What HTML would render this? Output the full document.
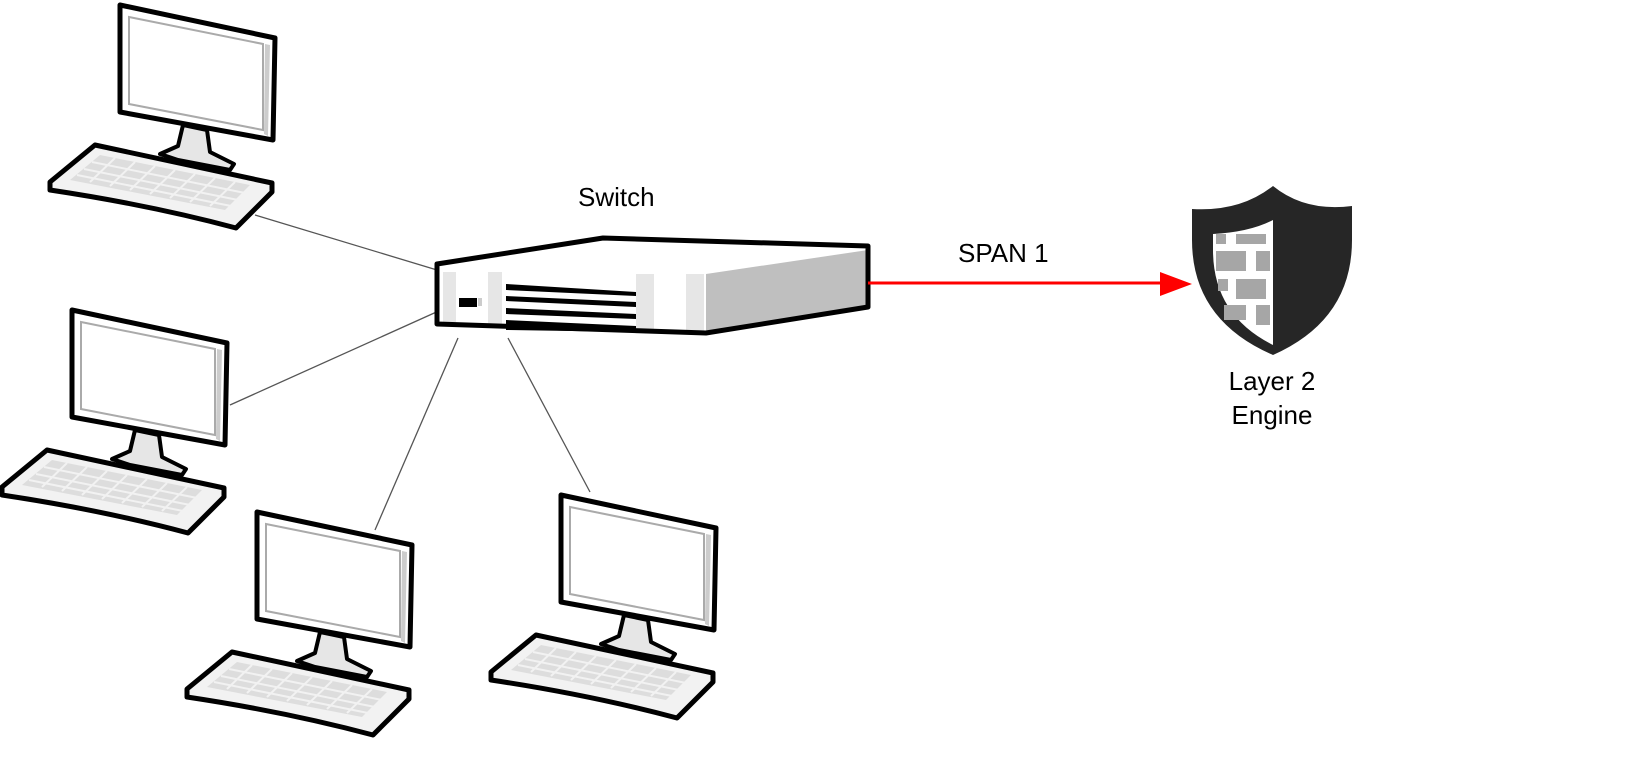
<!DOCTYPE html>
<html><head><style>body{margin:0;background:#fff}svg{display:block}</style></head><body>
<svg width="1629" height="769" viewBox="0 0 1629 769" xmlns="http://www.w3.org/2000/svg">
<defs>
<g id="pc">
 <polygon points="120,5 275,38 273,140 120,112" fill="#fff" stroke="#000" stroke-width="5" stroke-linejoin="round"/>
 <polygon points="129,17 263,44 263,130 129,104" fill="#fff" stroke="#aaa" stroke-width="2"/>
 <polygon points="265,44 270,45 268,136 264,134" fill="#ccc"/>
 <polygon points="183,125 207,130 210,152 234,164 230,170 178,160 160,154 178,146" fill="#e6e6e6" stroke="#000" stroke-width="4" stroke-linejoin="round"/>
 <path d="M50,182 L95,145 L272,183 L272,192 L236,228 Q150,205 50,190 Z" fill="#f2f2f2" stroke="#000" stroke-width="5" stroke-linejoin="round"/>
 <g fill="#ddd">
  <polygon points="70,180 100,155 250,185 225,210"/>
 </g>
 <g stroke="#f2f2f2" stroke-width="2">
  <line x1="92" y1="162" x2="250" y2="194"/><line x1="84" y1="169" x2="243" y2="201"/><line x1="77" y1="175" x2="236" y2="207"/>
  <line x1="115" y1="158" x2="90" y2="182"/><line x1="135" y1="162" x2="110" y2="186"/><line x1="155" y1="166" x2="130" y2="190"/><line x1="175" y1="170" x2="150" y2="194"/><line x1="195" y1="174" x2="170" y2="198"/><line x1="215" y1="178" x2="190" y2="202"/><line x1="235" y1="182" x2="210" y2="206"/>
 </g>
</g>
</defs>
<g stroke="#555" stroke-width="1.3">
 <line x1="255" y1="215" x2="437" y2="270"/>
 <line x1="230" y1="405" x2="452" y2="305"/>
 <line x1="375" y1="530" x2="458" y2="338"/>
 <line x1="590" y1="492" x2="508" y2="338"/>
</g>
<use href="#pc"/>
<use href="#pc" transform="translate(-48,305)"/>
<use href="#pc" transform="translate(137,507)"/>
<use href="#pc" transform="translate(441,490)"/>
<!-- switch -->
<polygon points="437,264 603,238 868,246 868,307 706,333 437,324" fill="#fff"/>
<polygon points="706,274 868,250 868,307 706,333" fill="#bfbfbf"/>
<rect x="443" y="272" width="13" height="50" fill="#e6e6e6"/>
<rect x="488" y="272" width="14" height="52" fill="#e6e6e6"/>
<rect x="636" y="274" width="18" height="56" fill="#e6e6e6"/>
<rect x="686" y="274" width="18" height="58" fill="#e6e6e6"/>
<rect x="478" y="298" width="4" height="8" fill="#ccc"/>
<rect x="459" y="298" width="18" height="9" fill="#000"/>
<g fill="#000">
 <polygon points="506,284 636,292 636,296 506,290"/>
 <polygon points="506,296 636,302 636,307 506,301"/>
 <polygon points="506,308 636,314 636,319 506,314"/>
 <polygon points="506,320 636,326 636,332 506,330"/>
</g>
<polygon points="437,264 603,238 868,246 868,307 706,333 437,324" fill="none" stroke="#000" stroke-width="5" stroke-linejoin="round"/>
<!-- red arrow -->
<line x1="868" y1="283" x2="1168" y2="283" stroke="#f00" stroke-width="3"/>
<polygon points="1160,272 1192,284 1160,296" fill="#f00"/>
<!-- shield -->
<path d="M1192,209 Q1240,212 1273,186 Q1305,212 1352,206 L1352,240 Q1352,320 1273,355 Q1192,320 1192,240 Z" fill="#262626"/>
<path d="M1213,234 Q1250,232 1273,220 L1273,345 Q1213,315 1213,250 Z" fill="#fff"/>
<g fill="#a6a6a6">
 <rect x="1216" y="234" width="10" height="10"/><rect x="1236" y="234" width="30" height="10"/>
 <rect x="1216" y="251" width="30" height="20"/><rect x="1256" y="251" width="14" height="20"/>
 <rect x="1218" y="279" width="10" height="12"/><rect x="1236" y="279" width="30" height="20"/>
 <rect x="1224" y="305" width="22" height="15"/><rect x="1256" y="305" width="14" height="20"/>
</g>
<g font-family="Liberation Sans, sans-serif" font-size="26" fill="#000">
 <text x="578" y="206">Switch</text>
 <text x="958" y="262">SPAN 1</text>
 <text x="1272" y="390" text-anchor="middle">Layer 2</text>
 <text x="1272" y="424" text-anchor="middle">Engine</text>
</g>
</svg>
</body></html>
